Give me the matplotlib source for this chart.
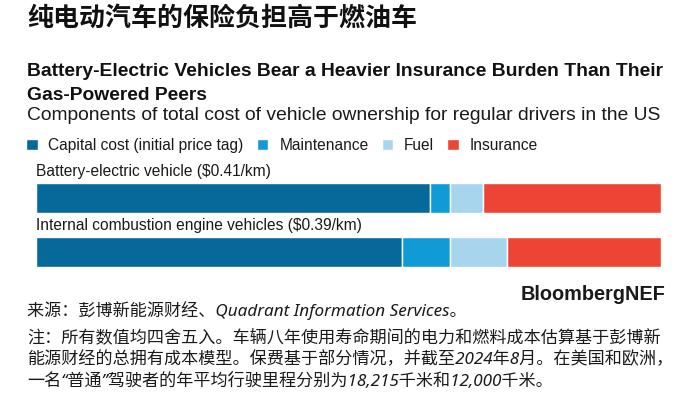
import matplotlib
matplotlib.use("Agg")
import matplotlib.pyplot as plt

# ---- data ----
categories = ["Battery-electric vehicle ($0.41/km)",
              "Internal combustion engine vehicles ($0.39/km)"]
components = ["Capital cost (initial price tag)", "Maintenance", "Fuel", "Insurance"]
capital = [63.0, 58.6]
maintenance = [3.2, 7.6]
fuel = [5.3, 9.1]
insurance = [28.5, 24.7]
series = [capital, maintenance, fuel, insurance]
colors = ["#07699a", "#109bd7", "#a8d5ee", "#ec4536"]

title_cn = "纯电动汽车的保险负担高于燃油车"
title_en = "Battery-Electric Vehicles Bear a Heavier Insurance Burden Than Their\nGas-Powered Peers"
subtitle = "Components of total cost of vehicle ownership for regular drivers in the US"
source = "来源：彭博新能源财经、Quadrant Information Services。"
note = ("注：所有数值均四舍五入。车辆八年使用寿命期间的电力和燃料成本估算基于彭博新\n"
        "能源财经的总拥有成本模型。保费基于部分情况，并截至2024年8月。在美国和欧洲，\n"
        "一名“普通”驾驶者的年平均行驶里程分别为18,215千米和12,000千米。")

W, H = 700, 399
fig = plt.figure(figsize=(W / 100, H / 100), dpi=100)
fig.patch.set_facecolor("white")

EN = ["Liberation Sans", "Noto Sans CJK SC"]
CN = ["Noto Sans CJK SC", "DejaVu Sans"]
FOOT = ["Noto Sans", "Noto Sans CJK SC", "DejaVu Sans"]

def fy(py):
    return 1 - py / H

def fx(px):
    return px / W

# axes for bars: x 36..661, y 183..267 px
bar_h = 30 / 54
span = 84 / 54
ax = fig.add_axes([fx(36), fy(267), fx(661) - fx(36), 84 / H])
ypos = list(range(len(categories)))
left = [0.0] * len(categories)
handles = []
for vals, col, name in zip(series, colors, components):
    b = ax.barh(ypos, vals, left=left, height=bar_h, color=col,
                edgecolor="white", linewidth=1.0, label=name)
    handles.append(b)
    left = [l + v for l, v in zip(left, vals)]
ax.set_xlim(0, 100)
ax.set_ylim(-bar_h / 2, -bar_h / 2 + span)
ax.invert_yaxis()
ax.axis("off")

for i, cat in enumerate(categories):
    ax.text(0, i - bar_h / 2 - 0.07, cat, ha="left", va="bottom",
            fontsize=11.2, family=EN, color="#1a1a1a", clip_on=False)

# titles
fig.text(fx(27), fy(18), title_cn, ha="left", va="center", fontsize=18.7,
         fontweight="bold", family=CN, color="#111111")
fig.text(fx(27), fy(62.5), title_en, ha="left", va="top", fontsize=13.9,
         fontweight="bold", family=EN, color="#111111", linespacing=1.55)
fig.text(fx(27), fy(116), subtitle, ha="left", va="center", fontsize=13.9,
         family=EN, color="#1a1a1a")

# legend
leg = fig.legend(handles=handles, labels=components, loc="center left",
                 bbox_to_anchor=(fx(26), fy(145.5)), ncol=4, frameon=False,
                 handlelength=0.74, handleheight=0.74, handletextpad=0.7,
                 columnspacing=0.85, borderaxespad=0, borderpad=0,
                 prop={"family": EN, "size": 11.2})
for t in leg.get_texts():
    t.set_color("#1a1a1a")

# footer
fig.text(fx(27), fy(311), source, ha="left", va="center", fontsize=12.3,
         family=FOOT, style="italic", color="#1a1a1a")
fig.text(fx(665), fy(294), "BloombergNEF", ha="right", va="center", fontsize=14.3,
         fontweight="bold", family=EN, color="#1a1a1a")
fig.text(fx(27), fy(329.5), note, ha="left", va="top", fontsize=12.3,
         family=FOOT, style="italic", color="#1a1a1a", linespacing=1.36)

fig.savefig("out.png", dpi=100, facecolor="white")
